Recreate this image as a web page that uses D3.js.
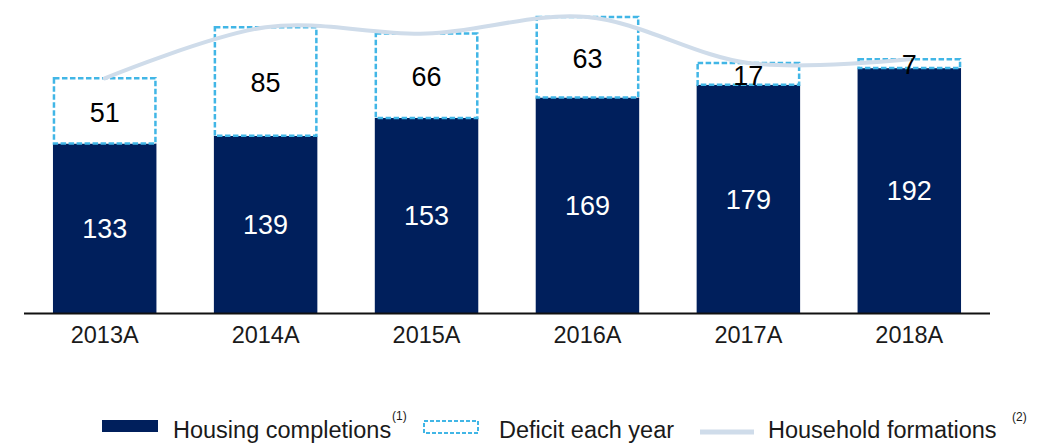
<!DOCTYPE html>
<html>
<head>
<meta charset="utf-8">
<script src="https://cdn.jsdelivr.net/npm/d3@7"></script>
<style>
  html, body { margin: 0; padding: 0; background: #fff; }
  svg { display: block; font-family: "Liberation Sans", Arial, sans-serif; }
</style>
</head>
<body>
<svg id="chart" width="1045" height="443"></svg>
<script>
// Housing supply vs. household formation (thousands)
const years = ["2013A", "2014A", "2015A", "2016A", "2017A", "2018A"];
const completions = [133, 139, 153, 169, 179, 192];
const deficit = [51, 85, 66, 63, 17, 7];
const formations = [184, 224, 219, 232, 196, 199];
const legendLabels = ["Housing completions", "Deficit each year", "Household formations"];
const legendNotes = ["(1)", "(2)"];

const NAVY = "#001f5c";
const DASH = "#41b6e6";
const LINE = "#cfdcea";
const TEXT = "#1a1a1a";

const svg = d3.select("#chart");

const x = d3.scaleBand()
  .domain(years)
  .range([24, 990])
  .paddingInner(0.357)
  .paddingOuter(0.18);

const y = d3.scaleLinear()
  .domain([0, 245.3])
  .range([313.5, 0]);

const rows = years.map((yr, i) => ({
  year: yr,
  comp: completions[i],
  def: deficit[i],
  form: formations[i]
}));

// completions bars
svg.append("g").selectAll("rect")
  .data(rows)
  .join("rect")
  .attr("x", d => x(d.year))
  .attr("y", d => y(d.comp))
  .attr("width", x.bandwidth())
  .attr("height", d => y(0) - y(d.comp))
  .attr("fill", NAVY);

// deficit boxes stacked on top of completions
svg.append("g").selectAll("rect")
  .data(rows)
  .join("rect")
  .attr("x", d => x(d.year) + 1)
  .attr("y", d => y(d.comp + d.def))
  .attr("width", x.bandwidth() - 2)
  .attr("height", d => y(d.comp) - y(d.comp + d.def))
  .attr("fill", "#fff")
  .attr("stroke", DASH)
  .attr("stroke-width", 2.5)
  .attr("stroke-dasharray", "5.5,2.5");

// x axis
const xAxis = d3.axisBottom(x).tickSize(0).tickPadding(13);
const ax = svg.append("g")
  .attr("transform", `translate(0,${y(0)})`)
  .call(xAxis);
ax.select(".domain").attr("stroke", "#111").attr("stroke-width", 2).attr("d", "M24,0H990");
ax.selectAll("text")
  .attr("font-size", 23.5)
  .attr("fill", TEXT)
  .attr("font-family", "Liberation Sans, Arial, sans-serif");

// household formations line
const line = d3.line()
  .x(d => x(d.year) + x.bandwidth() / 2)
  .y(d => y(d.form))
  .curve(d3.curveCardinal.tension(0));

svg.append("path")
  .datum(rows)
  .attr("d", line)
  .attr("fill", "none")
  .attr("stroke", LINE)
  .attr("stroke-width", 4)
  .attr("stroke-linecap", "round");

// value labels inside completions bars
const VFS = 27;
svg.append("g").selectAll("text")
  .data(rows)
  .join("text")
  .attr("x", d => x(d.year) + x.bandwidth() / 2)
  .attr("y", d => (y(0) + y(d.comp)) / 2 + VFS * 0.358)
  .attr("text-anchor", "middle")
  .attr("font-size", VFS)
  .attr("fill", "#fff")
  .text(d => d.comp);

// value labels inside deficit boxes
svg.append("g").selectAll("text")
  .data(rows)
  .join("text")
  .attr("x", d => x(d.year) + x.bandwidth() / 2)
  .attr("y", d => (y(d.comp) + y(d.comp + d.def)) / 2 + VFS * 0.358 + 1)
  .attr("text-anchor", "middle")
  .attr("font-size", VFS)
  .attr("fill", "#000")
  .text(d => d.def);

// legend
const lg = svg.append("g").attr("transform", "translate(0,-3)");
const LFS = 23.5;
const lgBase = 441;

lg.append("rect")
  .attr("x", 102).attr("y", 423).attr("width", 56).attr("height", 12)
  .attr("fill", NAVY);
lg.append("text")
  .attr("x", 173).attr("y", lgBase)
  .attr("font-size", LFS).attr("fill", TEXT)
  .text(legendLabels[0]);
lg.append("text")
  .attr("x", 392).attr("y", 423)
  .attr("font-size", 12).attr("fill", TEXT)
  .text(legendNotes[0]);

lg.append("rect")
  .attr("x", 424).attr("y", 424).attr("width", 54).attr("height", 12)
  .attr("fill", "#fff")
  .attr("stroke", DASH)
  .attr("stroke-width", 2)
  .attr("stroke-dasharray", "4,2");
lg.append("text")
  .attr("x", 499).attr("y", lgBase)
  .attr("font-size", LFS).attr("fill", TEXT)
  .text(legendLabels[1]);

lg.append("line")
  .attr("x1", 700).attr("x2", 754).attr("y1", 435).attr("y2", 435)
  .attr("stroke", LINE).attr("stroke-width", 5);
lg.append("text")
  .attr("x", 768).attr("y", lgBase)
  .attr("font-size", LFS).attr("fill", TEXT)
  .text(legendLabels[2]);
lg.append("text")
  .attr("x", 1012).attr("y", 424)
  .attr("font-size", 12).attr("fill", TEXT)
  .text(legendNotes[1]);
</script>
</body>
</html>
